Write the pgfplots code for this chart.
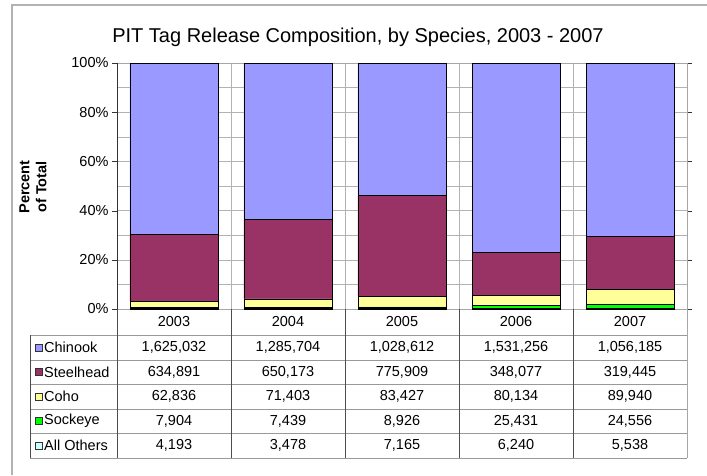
\documentclass[border=0pt]{standalone}
\usepackage{pgfplots}
\pgfplotsset{compat=1.18}
\usepackage{pgfplotstable}
\usepackage{fontspec}
\setmainfont{Liberation Sans}

\definecolor{chinook}{HTML}{9999FF}
\definecolor{steelhead}{HTML}{993366}
\definecolor{coho}{HTML}{FFFF99}
\definecolor{sockeye}{HTML}{00FF00}
\definecolor{others}{HTML}{CCFFFF}
\newcommand\tf{\fontsize{14.5}{17}\selectfont}

% percent of total per year (computed from the release counts in the table)
\pgfplotstableread{
x others sockeye coho steelhead chinook
1 0.1796 0.3385 2.6912 27.1919 69.5988
2 0.1723 0.3686 3.5380 32.2155 63.7056
3 0.3763 0.4688 4.3816 40.7507 54.0226
4 0.3134 1.2772 4.0245 17.4813 76.9036
5 0.3703 1.6418 6.0134 21.3581 70.6164
}\pct

\begin{document}
\begin{tikzpicture}
\useasboundingbox (0pt,0pt) rectangle (707pt,475pt);
\begin{axis}[
  at={(117pt,166pt)}, anchor=south west,
  scale only axis, width=570pt, height=246pt,
  ybar stacked, bar width=0.772,
  xmin=0.5, xmax=5.5, ymin=0, ymax=100,
  xtick={1.5,2.5,3.5,4.5}, xticklabels={}, xmajorgrids,
  xtick style={draw=none},
  ytick={0,20,...,100}, yticklabel={\pgfmathprintnumber{\tick}\%},
  minor y tick num=1, ymajorgrids, yminorgrids,
  major grid style={gray!60}, minor grid style={gray!60},
  tick align=outside, major tick length=5pt, minor tick length=0pt,
  ytick style={black!80},
  axis line style={gray!70},
  ticklabel style={font=\tf},
  /pgf/number format/assume math mode=true,
  every axis plot/.append style={draw=black, line width=0.8pt},
]
\addplot[fill=others] table[y=others] {\pct};
\addplot[fill=sockeye] table[y=sockeye] {\pct};
\addplot[fill=coho] table[y=coho] {\pct};
\addplot[fill=steelhead] table[y=steelhead] {\pct};
\addplot[fill=chinook] table[y=chinook] {\pct};
\draw[black!80] (axis cs:0.5,0) -- (axis cs:0.5,100);
\end{axis}

\begin{scope}[x=1pt,y=1pt]
  % outer frame (only top and left edges fall inside the picture)
  \draw[gray!60, line width=1.2pt] (12,0) -- (12,470) -- (707,470);
  \node[font=\fontsize{20}{24}\selectfont] at (358,438) {PIT Tag Release Composition, by Species, 2003 - 2007};
  \node[font=\tf\bfseries, rotate=90, align=center] at (33,288) {Percent\\of Total};
  % data table grid
  \foreach \yy in {140,115,91,66,42,17} \draw[gray!80, line width=0.8pt] (30,\yy) -- (687,\yy);
  \draw[black!70] (30,140) -- (30,17);
  \foreach \xx in {117,231,345,459,573} \draw[black!70] (\xx,166) -- (\xx,17);
  \draw[gray!70] (687,166) -- (687,17);
  % header
  \foreach \yr [count=\i] in {2003,2004,2005,2006,2007}
    \node[font=\tf] at (60+114*\i,153) {\yr};
  % legend keys and names
  \foreach \nm/\col/\yy in {Chinook/chinook/127.5, Steelhead/steelhead/103, Coho/coho/78.5, Sockeye/sockeye/54, All Others/others/29.5} {
    \draw[black!80, fill=\col] (35,\yy-3.5) rectangle (42,\yy+3.5);
    \node[font=\tf, anchor=west, inner sep=0pt] at (44,\yy) {\nm};
  }
  % values
  \foreach \a/\b/\c/\d/\e/\yy in {
    {1,625,032}/{1,285,704}/{1,028,612}/{1,531,256}/{1,056,185}/127.5,
    {634,891}/{650,173}/{775,909}/{348,077}/{319,445}/103,
    {62,836}/{71,403}/{83,427}/{80,134}/{89,940}/78.5,
    {7,904}/{7,439}/{8,926}/{25,431}/{24,556}/54,
    {4,193}/{3,478}/{7,165}/{6,240}/{5,538}/29.5} {
    \node[font=\tf] at (174,\yy) {\a};
    \node[font=\tf] at (288,\yy) {\b};
    \node[font=\tf] at (402,\yy) {\c};
    \node[font=\tf] at (516,\yy) {\d};
    \node[font=\tf] at (630,\yy) {\e};
  }
\end{scope}
\end{tikzpicture}
\end{document}
